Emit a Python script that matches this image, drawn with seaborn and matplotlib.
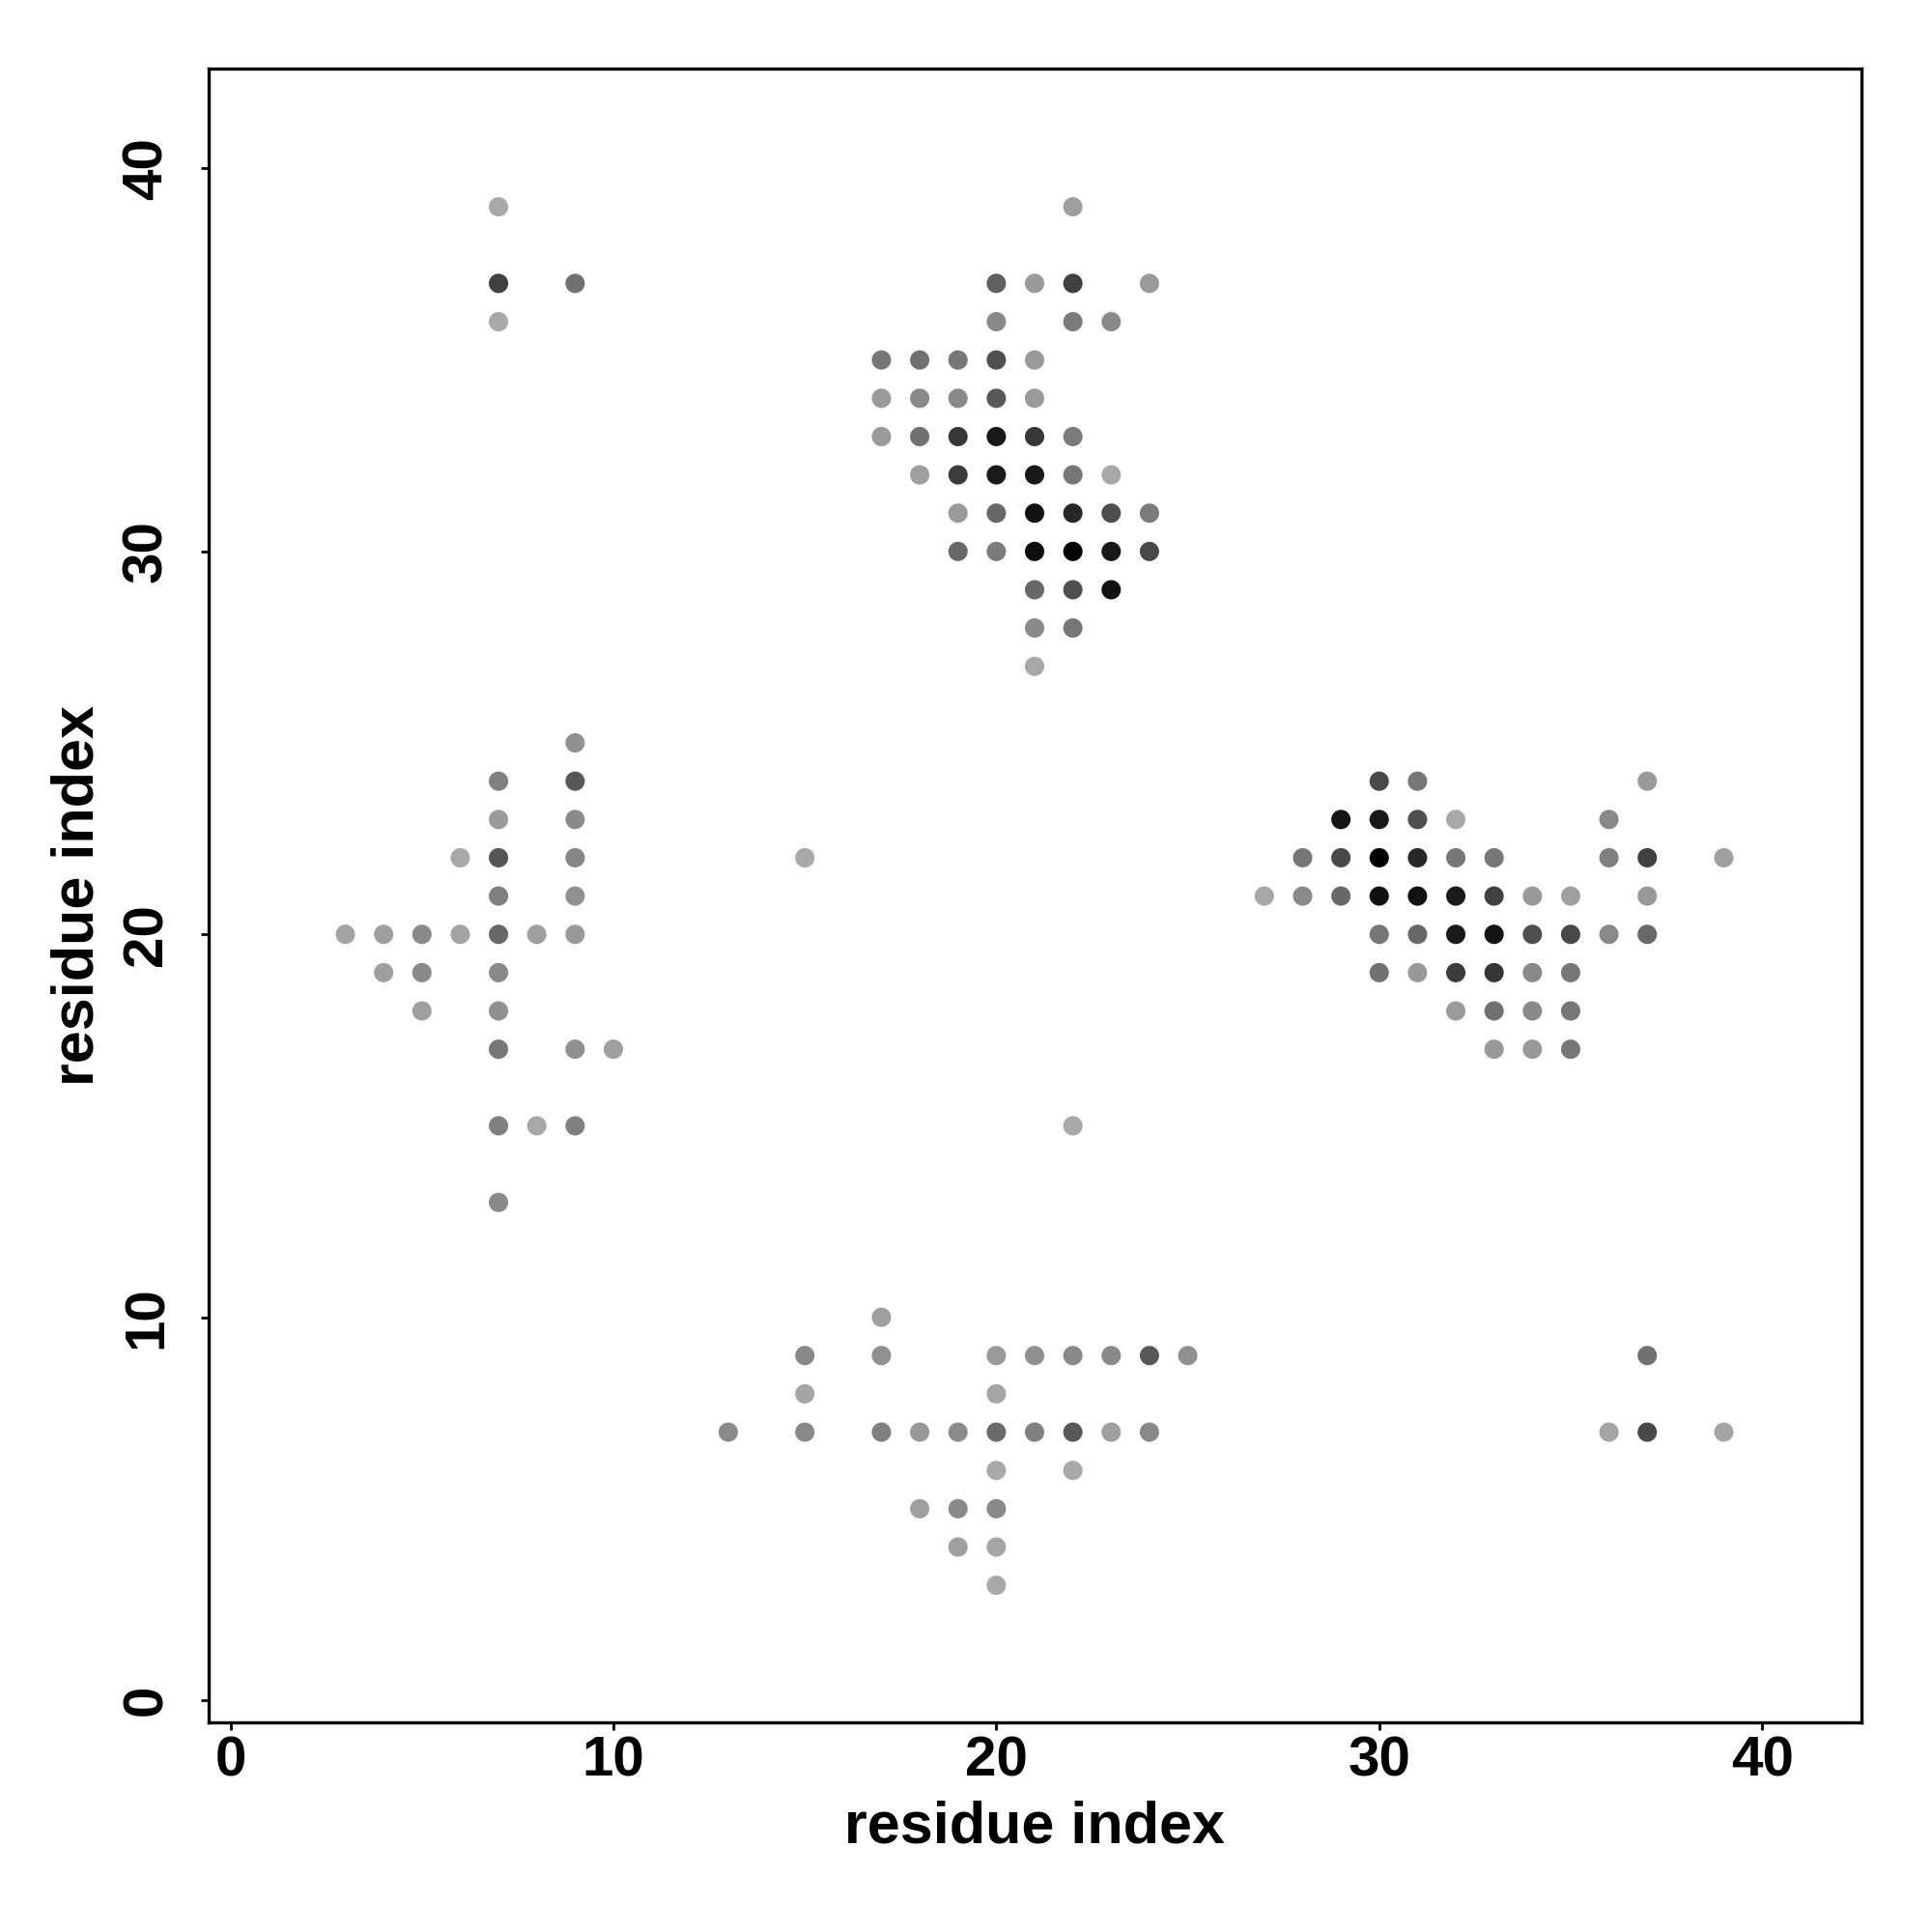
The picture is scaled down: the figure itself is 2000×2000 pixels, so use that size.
import matplotlib
matplotlib.use("Agg")
import matplotlib.pyplot as plt
from matplotlib.colors import LinearSegmentedColormap
import seaborn as sns
import pandas as pd

# ---- data: contact pairs (residue i, residue j) and contact frequency ----
res_i = [
    # top-left
    7, 7, 9, 7,
    # top-middle
    22,
    20, 21, 22, 24,
    20, 22, 23,
    17, 18, 19, 20, 21,
    17, 18, 19, 20, 21,
    17, 18, 19, 20, 21, 22,
    18, 19, 20, 21, 22, 23,
    19, 20, 21, 22, 23, 24,
    19, 20, 21, 22, 23, 24,
    21, 22, 23,
    21, 22,
    21,
    # left
    9,
    7, 9,
    7, 9,
    6, 7, 9,
    7, 9,
    3, 4, 5, 6, 7, 8, 9,
    4, 5, 7,
    5, 7,
    7, 9, 10,
    7, 8, 9,
    7,
    15, 22,
    # right
    30, 31, 37,
    29, 30, 31, 32, 36,
    28, 29, 30, 31, 32, 33, 36, 37, 39,
    27, 28, 29, 30, 31, 32, 33, 34, 35, 37,
    30, 31, 32, 33, 34, 35, 36, 37,
    30, 31, 32, 33, 34, 35,
    32, 33, 34, 35,
    33, 34, 35,
    # bottom
    17,
    15, 17, 20, 21, 22, 23, 24, 25,
    15, 20,
    13, 15, 17, 18, 19, 20, 21, 22, 23, 24,
    20, 22,
    18, 19, 20,
    19, 20,
    20,
    # bottom-right
    37, 36, 37, 39,
]

res_j = [
    39, 37, 37, 36,
    39,
    37, 37, 37, 37,
    36, 36, 36,
    35, 35, 35, 35, 35,
    34, 34, 34, 34, 34,
    33, 33, 33, 33, 33, 33,
    32, 32, 32, 32, 32, 32,
    31, 31, 31, 31, 31, 31,
    30, 30, 30, 30, 30, 30,
    29, 29, 29,
    28, 28,
    27,
    25,
    24, 24,
    23, 23,
    22, 22, 22,
    21, 21,
    20, 20, 20, 20, 20, 20, 20,
    19, 19, 19,
    18, 18,
    17, 17, 17,
    15, 15, 15,
    13,
    22, 15,
    24, 24, 24,
    23, 23, 23, 23, 23,
    22, 22, 22, 22, 22, 22, 22, 22, 22,
    21, 21, 21, 21, 21, 21, 21, 21, 21, 21,
    20, 20, 20, 20, 20, 20, 20, 20,
    19, 19, 19, 19, 19, 19,
    18, 18, 18, 18,
    17, 17, 17,
    10,
    9, 9, 9, 9, 9, 9, 9, 9,
    8, 8,
    7, 7, 7, 7, 7, 7, 7, 7, 7, 7,
    6, 6,
    5, 5, 5,
    4, 4,
    3,
    9, 7, 7, 7,
]

freq = [
    0.03, 0.63, 0.35, 0.03,
    0.08,
    0.45, 0.11, 0.63, 0.11,
    0.21, 0.29, 0.21,
    0.31, 0.35, 0.31, 0.54, 0.11,
    0.11, 0.21, 0.21, 0.49, 0.11,
    0.11, 0.35, 0.68, 0.86, 0.68, 0.29,
    0.08, 0.66, 0.85, 0.86, 0.31, 0.03,
    0.11, 0.40, 0.90, 0.77, 0.54, 0.29,
    0.40, 0.29, 0.92, 0.99, 0.86, 0.58,
    0.40, 0.54, 0.90,
    0.21, 0.31,
    0.03,
    0.17,
    0.26, 0.49,
    0.11, 0.20,
    0.03, 0.51, 0.23,
    0.26, 0.17,
    0.06, 0.08, 0.21, 0.06, 0.40, 0.08, 0.12,
    0.08, 0.21, 0.21,
    0.08, 0.17,
    0.31, 0.17, 0.08,
    0.26, 0.03, 0.26,
    0.21,
    0.03, 0.03,
    0.58, 0.31, 0.11,
    0.88, 0.86, 0.54, 0.03, 0.21,
    0.31, 0.58, 0.99, 0.77, 0.31, 0.31, 0.26, 0.63, 0.08,
    0.03, 0.20, 0.40, 0.91, 0.90, 0.85, 0.63, 0.12, 0.08, 0.12,
    0.31, 0.40, 0.85, 0.88, 0.54, 0.58, 0.21, 0.40,
    0.35, 0.12, 0.66, 0.69, 0.21, 0.31,
    0.11, 0.35, 0.21, 0.31,
    0.12, 0.12, 0.31,
    0.08,
    0.21, 0.17, 0.11, 0.17, 0.21, 0.20, 0.49, 0.17,
    0.05, 0.05,
    0.20, 0.21, 0.26, 0.12, 0.20, 0.39, 0.26, 0.49, 0.08, 0.21,
    0.03, 0.03,
    0.08, 0.21, 0.21,
    0.08, 0.05,
    0.03,
    0.35, 0.05, 0.58, 0.05,
]

x_ticks = [0, 10, 20, 30, 40]
y_ticks = [0, 10, 20, 30, 40]
axis_label = "residue index"

df = pd.DataFrame({"i": res_i, "j": res_j, "freq": freq})

sns.set_theme(style="white")
plt.rcParams["font.family"] = ["Liberation Sans", "DejaVu Sans"]
plt.rcParams["font.weight"] = "bold"
plt.rcParams["text.color"] = "black"
plt.rcParams["axes.labelcolor"] = "black"
plt.rcParams["xtick.color"] = "black"
plt.rcParams["ytick.color"] = "black"

fig = plt.figure(figsize=(10, 10), dpi=200)
ax = fig.add_axes([0.1078, 0.1085, 0.8558, 0.8558])

cmap = LinearSegmentedColormap.from_list("greys_r", ["#adadad", "#000000"])
sns.scatterplot(data=df, x="i", y="j", hue="freq", palette=cmap, hue_norm=(0, 1),
                s=52, linewidth=0, legend=False, ax=ax)

ax.set_xlim(-0.58, 42.6)
ax.set_ylim(-0.58, 42.6)
ax.set_xticks(x_ticks)
ax.set_yticks(y_ticks)
ax.set_xticklabels([str(t) for t in x_ticks], fontsize=21, fontweight="bold", color="black")
ax.set_yticklabels([str(t) for t in y_ticks], fontsize=21, fontweight="bold",
                   rotation=90, va="center", color="black")

for s in ax.spines.values():
    s.set_visible(True)
    s.set_color("black")
    s.set_linewidth(1.2)

ax.tick_params(axis="both", which="both", direction="out", length=3, width=1.0,
               color="black", labelcolor="black",
               bottom=True, left=True, top=False, right=False)
ax.tick_params(axis="x", pad=2)
ax.tick_params(axis="y", pad=10)

ax.set_xlabel(axis_label, fontsize=22, fontweight="bold", color="black")
ax.set_ylabel(axis_label, fontsize=22, fontweight="bold", color="black")
ax.xaxis.set_label_coords(0.5, -0.0637)
ax.xaxis.label.set_va("center")
ax.yaxis.set_label_coords(-0.0785, 0.5)
ax.yaxis.label.set_va("center")

ax.grid(False)
fig.savefig("out.png", dpi=200, facecolor="white")
